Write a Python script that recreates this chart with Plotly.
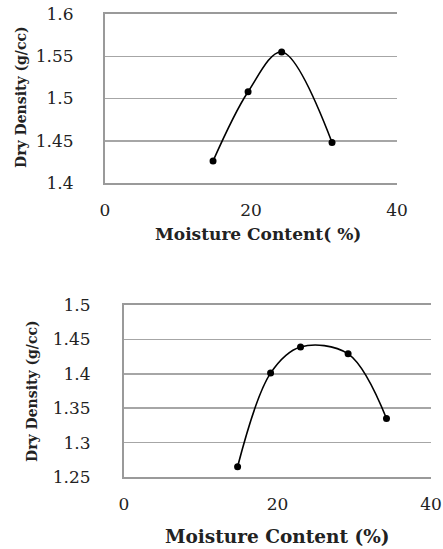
import plotly.graph_objects as go

# Chart 1
moisture_1 = [14.8, 19.6, 24.2, 31.1]
density_1 = [1.426, 1.508, 1.555, 1.448]
y_ticks_1 = [1.4, 1.45, 1.5, 1.55, 1.6]
y_ticklabels_1 = ["1.4", "1.45", "1.5", "1.55", "1.6"]

# Chart 2
moisture_2 = [14.8, 19.1, 23.0, 29.2, 34.2]
density_2 = [1.265, 1.401, 1.439, 1.429, 1.335]
y_ticks_2 = [1.25, 1.3, 1.35, 1.4, 1.45, 1.5]
y_ticklabels_2 = ["1.25", "1.3", "1.35", "1.4", "1.45", "1.5"]

x_ticks = [0, 20, 40]
x_title_1 = "Moisture Content( %)"
x_title_2 = "Moisture Content (%)"
y_title = "Dry Density (g/cc)"

W, H = 443, 549
FONT = "DejaVu Serif"
TICKFONT = dict(family=FONT, size=17, color="#222")
GRID = "#a6a6a6"
AX = "#9a9a9a"

fig = go.Figure()
fig.add_trace(go.Scatter(x=moisture_1, y=density_1, mode="lines+markers",
                         line=dict(shape="spline", color="black", width=1.6, smoothing=1),
                         marker=dict(color="black", size=7),
                         xaxis="x", yaxis="y", showlegend=False, cliponaxis=False))
fig.add_trace(go.Scatter(x=moisture_2, y=density_2, mode="lines+markers",
                         line=dict(shape="spline", color="black", width=1.6, smoothing=1),
                         marker=dict(color="black", size=7),
                         xaxis="x2", yaxis="y2", showlegend=False, cliponaxis=False))

def xax(domain, anchor):
    return dict(domain=domain, anchor=anchor, range=[0, 40], tickvals=x_ticks,
                showgrid=False, showline=True, linecolor=AX, linewidth=2, mirror=True,
                ticks="", tickfont=TICKFONT, ticklabelstandoff=11, zeroline=False,
                automargin=False, fixedrange=True)

def yax(domain, anchor, rng, tv, tt, standoff):
    return dict(domain=domain, anchor=anchor, range=rng, tickvals=tv, ticktext=tt,
                showgrid=True, gridcolor=GRID, gridwidth=1.5,
                showline=True, linecolor=AX, linewidth=2,
                ticks="", tickfont=TICKFONT, ticklabelstandoff=standoff, zeroline=False,
                automargin=False, fixedrange=True)

fig.update_layout(
    width=W, height=H,
    margin=dict(l=0, r=0, t=0, b=0, autoexpand=False),
    paper_bgcolor="white", plot_bgcolor="white",
    xaxis=xax([105 / W, 397 / W], "y"),
    yaxis=yax([1 - 183 / H, 1 - 14 / H], "x", [1.4, 1.6], y_ticks_1, y_ticklabels_1, 26),
    xaxis2=xax([124 / W, 431 / W], "y2"),
    yaxis2=yax([1 - 477 / H, 1 - 305 / H], "x2", [1.25, 1.5], y_ticks_2, y_ticklabels_2, 28),
)

TITLEFONT_X1 = dict(family=FONT, size=17, color="#222", weight="bold")
TITLEFONT_X2 = dict(family=FONT, size=18.5, color="#222", weight="bold")
TITLEFONT_Y = dict(family=FONT, size=14, color="#222", weight="bold")
fig.add_annotation(text=x_title_1, x=258 / W, y=1 - 234 / H, xref="paper", yref="paper",
                   showarrow=False, font=TITLEFONT_X1, xanchor="center", yanchor="middle")
fig.add_annotation(text=y_title, x=21 / W, y=1 - 97 / H, xref="paper", yref="paper",
                   showarrow=False, font=TITLEFONT_Y, textangle=-90, xanchor="center", yanchor="middle")
fig.add_annotation(text=x_title_2, x=277 / W, y=1 - 536 / H, xref="paper", yref="paper",
                   showarrow=False, font=TITLEFONT_X2, xanchor="center", yanchor="middle")
fig.add_annotation(text=y_title, x=32 / W, y=1 - 391 / H, xref="paper", yref="paper",
                   showarrow=False, font=TITLEFONT_Y, textangle=-90, xanchor="center", yanchor="middle")

fig.write_html("out.html", config={"displayModeBar": False, "staticPlot": True},
               post_script="document.body.style.margin='0px';document.body.style.overflow='hidden';")
